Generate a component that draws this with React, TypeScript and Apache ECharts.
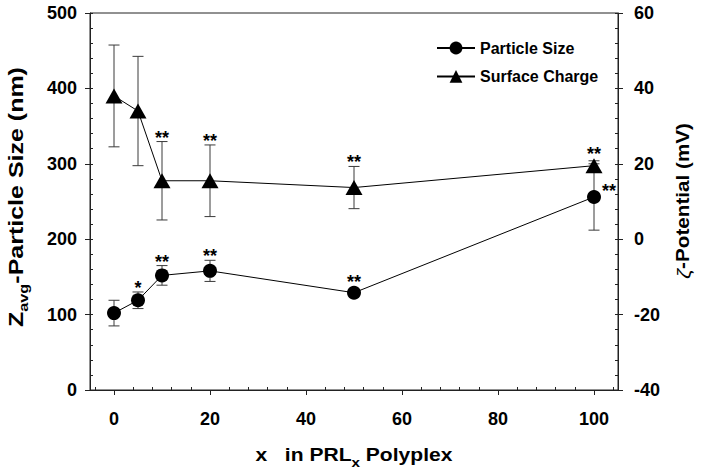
import React, { useEffect, useRef } from "react";
import * as echarts from "echarts";

const FONT = '"Liberation Sans", Arial, Helvetica, sans-serif';

// x positions (x in PRLx)
const xs = [0, 5, 10, 20, 50, 100];
// Particle size (nm), mean and SD
const sizeMean = [102, 119, 152, 158, 129, 256];
const sizeErr = [17, 11, 13, 14, 3, 44];
// Zeta potential (mV), mean and SD
const chargeMean = [38, 34, 15.5, 15.5, 13.7, 19.5];
const chargeErr = [13.5, 14.5, 10.4, 9.5, 5.6, 1.3];
// significance marks
const sizeSig = ["", "*", "**", "**", "**", "**"];
const sizeSigSide = ["top", "top", "top", "top", "top", "right"];
const chargeSig = ["", "", "**", "**", "**", "**"];
const chargeSigSide = ["top", "top", "top", "top", "top", "top"];

// ticks
const xMajor = [0, 20, 40, 60, 80, 100];
const xMinor = [-4, 4, 8, 12, 16, 24, 28, 32, 36, 44, 48, 52, 56, 64, 68, 72, 76, 84, 88, 92, 96, 104];

const AXIS_COLOR = "#222";
const ERR_COLOR = "#3a3a3a";

function errBarSeries(name: string, mean: number[], err: number[], yAxisIndex: number) {
  return {
    type: "custom",
    name,
    xAxisIndex: 0,
    yAxisIndex,
    z: 1,
    silent: true,
    data: xs.map((x, i) => [x, mean[i] - err[i], mean[i] + err[i]]),
    encode: { x: 0, y: [1, 2] },
    renderItem: (params: any, api: any) => {
      const x = api.value(0);
      const lo = api.value(1);
      const hi = api.value(2);
      const pHi = api.coord([x, hi]);
      const pLo = api.coord([x, lo]);
      const w = 5.5;
      const st = { stroke: ERR_COLOR, lineWidth: 1 };
      return {
        type: "group",
        children: [
          { type: "line", shape: { x1: pHi[0], y1: pHi[1], x2: pLo[0], y2: pLo[1] }, style: st },
          { type: "line", shape: { x1: pHi[0] - w, y1: pHi[1], x2: pHi[0] + w, y2: pHi[1] }, style: st },
          { type: "line", shape: { x1: pLo[0] - w, y1: pLo[1], x2: pLo[0] + w, y2: pLo[1] }, style: st },
        ],
      };
    },
  };
}

function sigSeries(name: string, mean: number[], err: number[], sig: string[], side: string[], yAxisIndex: number, markerHalf: number) {
  return {
    type: "custom",
    name,
    xAxisIndex: 0,
    yAxisIndex,
    z: 5,
    silent: true,
    data: xs.map((x, i) => [x, mean[i], mean[i] + err[i]]),
    encode: { x: 0, y: [1, 2] },
    renderItem: (params: any, api: any) => {
      const i = params.dataIndex;
      const text = sig[i];
      if (!text) return null;
      const x = api.value(0);
      const pM = api.coord([x, api.value(1)]);
      const pHi = api.coord([x, api.value(2)]);
      let tx: number, ty: number, align: string;
      if (side[i] === "right") {
        tx = pM[0] + 8;
        ty = pM[1] - 6;
        align = "left";
      } else {
        const top = Math.min(pHi[1], pM[1] - markerHalf);
        tx = pM[0];
        ty = top - 4;
        align = "center";
      }
      return {
        type: "text",
        style: {
          text,
          x: tx,
          y: ty,
          fill: "#000",
          fontSize: 18,
          fontWeight: "bold",
          fontFamily: FONT,
          align,
          verticalAlign: "middle",
        },
      };
    },
  };
}

export default function App() {
  const ref = useRef<HTMLDivElement>(null);

  useEffect(() => {
    if (!ref.current) return;
    const chart = echarts.init(ref.current, null, { renderer: "svg" });

    const tickLabel = { color: "#000", fontSize: 18, fontWeight: "bold", fontFamily: FONT };

    const option: any = {
      animation: false,
      backgroundColor: "#fff",
      textStyle: { fontFamily: FONT },
      grid: { left: 90, right: 86, top: 13, bottom: 82, show: true, borderColor: AXIS_COLOR, borderWidth: 1, backgroundColor: "transparent" },
      legend: {
        orient: "vertical",
        left: 431,
        top: 35,
        itemWidth: 38,
        itemHeight: 16,
        itemGap: 12.4,
        textStyle: { color: "#000", fontSize: 16, fontWeight: "bold", fontFamily: FONT },
        data: ["Particle Size", "Surface Charge"],
      },
      xAxis: [
        {
          type: "value",
          min: -5,
          max: 105,
          position: "bottom",
          axisLine: { show: true, onZero: false, lineStyle: { color: AXIS_COLOR, width: 1 } },
          axisTick: { show: true, customValues: xMajor, inside: false, length: 5, lineStyle: { color: AXIS_COLOR } },
          axisLabel: { customValues: xMajor, margin: 20, ...tickLabel },
          splitLine: { show: false },
        },
        {
          type: "value",
          min: -5,
          max: 105,
          position: "bottom",
          axisLine: { show: false, onZero: false },
          axisTick: { show: true, customValues: xMinor, inside: true, length: 3, lineStyle: { color: AXIS_COLOR } },
          axisLabel: { show: false },
          splitLine: { show: false },
        },
      ],
      yAxis: [
        {
          type: "value",
          min: 0,
          max: 500,
          interval: 100,
          position: "left",
          axisLine: { show: true, onZero: false, lineStyle: { color: AXIS_COLOR, width: 1 } },
          axisTick: { show: true, inside: false, length: 5, lineStyle: { color: AXIS_COLOR } },
          axisLabel: { margin: 13, ...tickLabel },
          splitLine: { show: false },
        },
        {
          type: "value",
          min: -40,
          max: 60,
          interval: 20,
          position: "right",
          axisLine: { show: true, onZero: false, lineStyle: { color: AXIS_COLOR, width: 1 } },
          axisTick: { show: true, inside: false, length: 5, lineStyle: { color: AXIS_COLOR } },
          axisLabel: { margin: 16, ...tickLabel },
          splitLine: { show: false },
        },
        {
          type: "value",
          min: 0,
          max: 500,
          interval: 20,
          position: "left",
          axisLine: { show: false, onZero: false },
          axisTick: { show: true, inside: true, length: 3, lineStyle: { color: AXIS_COLOR } },
          axisLabel: { show: false },
          splitLine: { show: false },
        },
        {
          type: "value",
          min: -40,
          max: 60,
          interval: 4,
          position: "right",
          axisLine: { show: false, onZero: false },
          axisTick: { show: true, inside: true, length: 3, lineStyle: { color: AXIS_COLOR } },
          axisLabel: { show: false },
          splitLine: { show: false },
        },
      ],
      series: [
        errBarSeries("sizeErr", sizeMean, sizeErr, 0),
        errBarSeries("chargeErr", chargeMean, chargeErr, 1),
        {
          type: "line",
          name: "Particle Size",
          xAxisIndex: 0,
          yAxisIndex: 0,
          z: 3,
          data: xs.map((x, i) => [x, sizeMean[i]]),
          symbol: "circle",
          symbolSize: 14,
          itemStyle: { color: "#000" },
          lineStyle: { color: "#000", width: 1 },
        },
        {
          type: "line",
          name: "Surface Charge",
          xAxisIndex: 0,
          yAxisIndex: 1,
          z: 3,
          data: xs.map((x, i) => [x, chargeMean[i]]),
          symbol: "triangle",
          symbolSize: [17, 15],
          itemStyle: { color: "#000" },
          lineStyle: { color: "#000", width: 1 },
        },
        sigSeries("sizeSig", sizeMean, sizeErr, sizeSig, sizeSigSide, 0, 7),
        sigSeries("chargeSig", chargeMean, chargeErr, chargeSig, chargeSigSide, 1, 7.5),
      ],
      graphic: [
        {
          type: "text",
          x: 16,
          y: 197,
          rotation: Math.PI / 2,
          scaleX: 1.25,
          style: {
            text: "{m|Z}{s|avg}{m|-Particle Size (nm)}",
            rich: {
              m: { fontSize: 20, fontWeight: "bold", fontFamily: FONT, fill: "#000", lineHeight: 28 },
              s: { fontSize: 13, fontWeight: "bold", fontFamily: FONT, fill: "#000", lineHeight: 13, verticalAlign: "bottom" },
            },
            align: "center",
            verticalAlign: "middle",
          },
        },
        {
          type: "text",
          x: 354,
          y: 455,
          scaleX: 1.17,
          style: {
            text: "{m|x\u00a0\u00a0\u00a0in PRL}{s|x}{m| Polyplex}",
            rich: {
              m: { fontSize: 18, fontWeight: "bold", fontFamily: FONT, fill: "#000", lineHeight: 28 },
              s: { fontSize: 13, fontWeight: "bold", fontFamily: FONT, fill: "#000", lineHeight: 13, verticalAlign: "bottom" },
            },
            align: "center",
            verticalAlign: "middle",
          },
        },
        {
          type: "text",
          x: 683,
          y: 201,
          rotation: Math.PI / 2,
          scaleX: 1.15,
          style: {
            text: "{z|ζ}{m|-Potential (mV)}",
            rich: {
              z: { fontSize: 19, fontStyle: "italic", fontFamily: FONT, fill: "#000" },
              m: { fontSize: 18, fontWeight: "bold", fontFamily: FONT, fill: "#000" },
            },
            align: "center",
            verticalAlign: "middle",
          },
        },
      ],
    };

    chart.setOption(option);
    return () => chart.dispose();
  }, []);

  return <div ref={ref} style={{ width: 704, height: 472, position: "absolute", left: 0, top: 0 }} />;
}
